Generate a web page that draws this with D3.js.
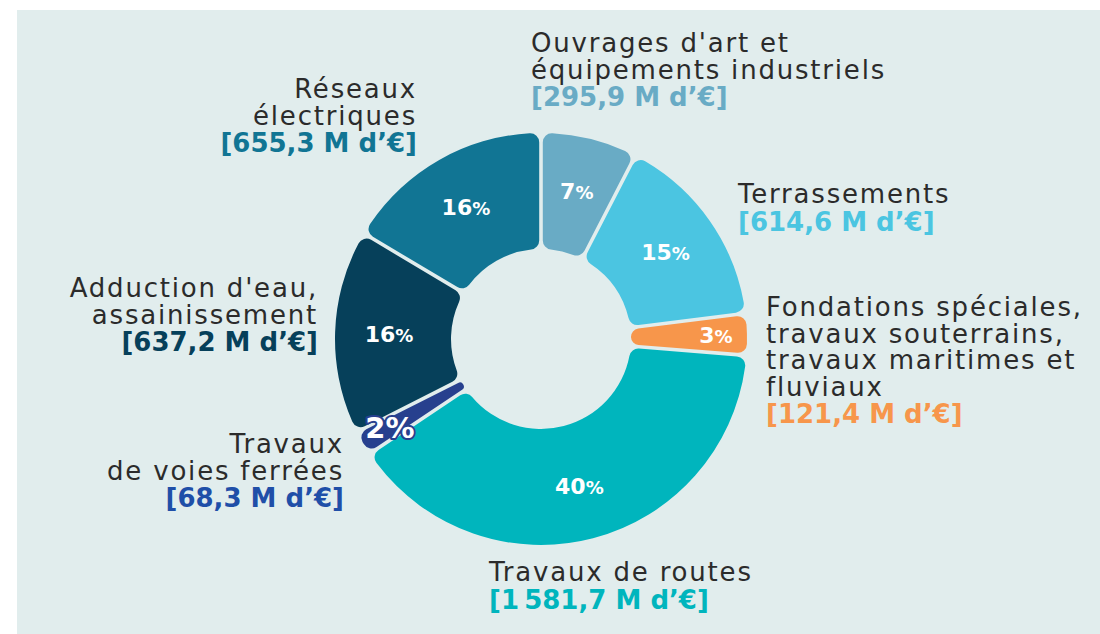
<!DOCTYPE html>
<html>
<head>
<meta charset="utf-8">
<script src="https://cdn.jsdelivr.net/npm/d3@7"></script>
<style>
  body { margin: 0; background: #fff; }
  svg text { font-family: "DejaVu Sans", "Open Sans", sans-serif; }
</style>
</head>
<body>
<div id="container"></div>
<script>
// data, clockwise from 12 o'clock
const categories = [
    "Ouvrages d'art et\néquipements industriels",
    "Terrassements",
    "Fondations spéciales,\ntravaux souterrains,\ntravaux maritimes et\nfluviaux",
    "Travaux de routes",
    "Travaux\nde voies ferrées",
    "Adduction d'eau,\nassainissement",
    "Réseaux\nélectriques"
];
const amounts = [295.9, 614.6, 121.4, 1581.7, 68.3, 637.2, 655.3];
const amountLabels = ["295,9", "614,6", "121,4", "1\u2009581,7", "68,3", "637,2", "655,3"];

const sliceColors = ["#69abc5", "#4bc5e1", "#f7964b", "#00b5bd", "#27408e", "#06405a", "#117594"];
const amountColors = ["#69abc5", "#4bc5e1", "#f7964b", "#00b5bd", "#1f4fa8", "#06405a", "#117594"];

// label placement: x, first baseline, anchor
const labelLayout = [
    [531, 52, "start"],
    [738, 203, "start"],
    [766, 316, "start"],
    [489, 581, "start"],
    [344, 453, "end"],
    [318, 297, "end"],
    [417, 98, "end"]
];

const width = 1100, height = 634;
const cx = 541, cy = 339;
const rOuter = 206, rInner = 90;
const lineH = 26.5;

const svg = d3.select("#container")
    .append("svg")
    .attr("width", width)
    .attr("height", height);

svg.append("rect")
    .attr("x", 17).attr("y", 10)
    .attr("width", width - 17).attr("height", height - 10)
    .attr("fill", "#e1eded");

const total = d3.sum(amounts);

const pie = d3.pie().sort(null).value(d => d).padAngle(0.016);
const arcs = pie(amounts);

const arc = d3.arc()
    .innerRadius(rInner)
    .outerRadius(rOuter)
    .cornerRadius(9);

const g = svg.append("g").attr("transform", `translate(${cx},${cy})`);

g.selectAll("path.slice")
    .data(arcs)
    .join("path")
    .attr("class", "slice")
    .attr("fill", (d, i) => sliceColors[i])
    .attr("d", arc);

// percentage labels
const pct = d => Math.round(d.value / total * 100);
const labelArc = d3.arc().innerRadius(152).outerRadius(152);
const smallArc = d3.arc().innerRadius(175).outerRadius(175);

const pctText = g.selectAll("text.pct")
    .data(arcs)
    .join("text")
    .attr("class", "pct")
    .attr("transform", d => `translate(${(pct(d) < 5 ? smallArc : labelArc).centroid(d)})`)
    .attr("text-anchor", "middle")
    .attr("dy", "0.36em")
    .attr("fill", "#fff")
    .attr("font-family", "Roboto, sans-serif")
    .attr("font-weight", 700)
    .attr("font-size", d => pct(d) < 3 ? 29 : 22)
    .attr("stroke", (d, i) => pct(d) < 3 ? sliceColors[i] : null)
    .attr("stroke-width", 4)
    .attr("paint-order", "stroke")
    .attr("stroke-linejoin", "round");

pctText.append("tspan").text(d => pct(d));
pctText.append("tspan")
    .attr("font-size", d => pct(d) < 3 ? 29 : 18)
    .text("%");

// category labels
const labels = svg.selectAll("text.cat")
    .data(categories)
    .join("text")
    .attr("class", "cat")
    .attr("x", (d, i) => labelLayout[i][0])
    .attr("y", (d, i) => labelLayout[i][1])
    .attr("text-anchor", (d, i) => labelLayout[i][2])
    .attr("font-size", 26);

labels.each(function (d, i) {
    const t = d3.select(this);
    const lines = d.split("\n");
    lines.forEach((line, j) => {
        t.append("tspan")
            .attr("x", labelLayout[i][0])
            .attr("dy", j === 0 ? 0 : lineH)
            .attr("fill", "#2b2b2b")
            .attr("letter-spacing", 1.8)
            .text(line);
    });
    t.append("tspan")
        .attr("x", labelLayout[i][0])
        .attr("dy", lineH + 1)
        .attr("fill", amountColors[i])
        .attr("font-weight", 700)
        .attr("font-size", 26)
        .text(`[${amountLabels[i]} M d’€]`);
});
</script>
</body>
</html>
